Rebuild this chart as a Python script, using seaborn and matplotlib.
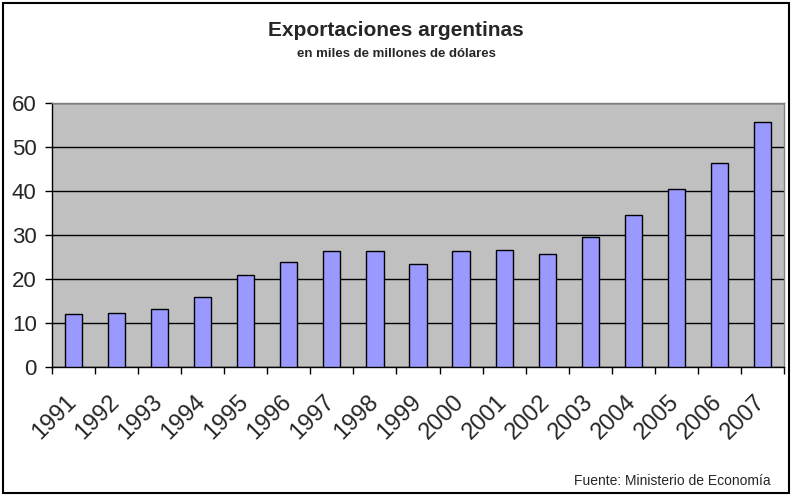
import numpy as np
import pandas as pd
import matplotlib
matplotlib.use("Agg")
import matplotlib.pyplot as plt
import seaborn as sns
from matplotlib.patches import Rectangle
from matplotlib.transforms import ScaledTranslation

# datos: exportaciones argentinas (miles de millones de USD)
years = ["1991", "1992", "1993", "1994", "1995", "1996", "1997", "1998", "1999",
         "2000", "2001", "2002", "2003", "2004", "2005", "2006", "2007"]
exports = [12.0, 12.3, 13.2, 15.9, 20.9, 23.9, 26.4, 26.4, 23.4,
           26.4, 26.6, 25.7, 29.5, 34.5, 40.5, 46.4, 55.7]
y_ticks = [0, 10, 20, 30, 40, 50, 60]

df = pd.DataFrame({"year": years, "exports": exports})

sns.set_style("white")
plt.rcParams["font.family"] = ["Liberation Sans", "DejaVu Sans"]

fig = plt.figure(figsize=(7.92, 4.96), dpi=100)
ax = fig.add_axes([52 / 792, 1 - 367 / 496, 732 / 792, 264 / 496])

sns.barplot(data=df, x="year", y="exports", color="#9999FF", saturation=1,
            width=0.4, edgecolor="black", linewidth=1, ax=ax, zorder=3)

ax.set_facecolor("#C0C0C0")
ax.set_ylim(0, 60)
ax.set_xlim(-0.5, len(years) - 0.5)
ax.set_yticks(y_ticks)
ax.set_yticklabels([str(t) for t in y_ticks], fontsize=16)
ax.yaxis.grid(True, color="black", linewidth=1, zorder=1)
ax.set_axisbelow(True)
ax.set_xlabel("")
ax.set_ylabel("")

# etiquetas de anios en el centro, marcas en los limites de categoria
ax.set_xticks(range(len(years)))
ax.set_xticklabels(years, fontsize=17, rotation=45, ha="right",
                   rotation_mode="anchor")
ax.set_xticks(np.arange(-0.5, len(years), 1), minor=True)
ax.tick_params(axis="x", which="major", length=0, pad=17)
ax.tick_params(axis="x", which="minor", length=5, width=1, color="black",
               direction="out", bottom=True)
ax.tick_params(axis="y", length=5, width=1, color="black", direction="out",
               left=True, pad=6)
shift = ScaledTranslation(-8 / 100, 0, fig.dpi_scale_trans)
for lbl in ax.get_xticklabels():
    lbl.set_transform(lbl.get_transform() + shift)

for side in ["top", "right"]:
    ax.spines[side].set_color("#808080")
    ax.spines[side].set_linewidth(1)
for side in ["left", "bottom"]:
    ax.spines[side].set_color("black")
    ax.spines[side].set_linewidth(1)

fig.text(0.5, 1 - 30 / 496, "Exportaciones argentinas", ha="center",
         va="center", fontsize=15, fontweight="bold")
fig.text(0.5, 1 - 54 / 496, "en miles de millones de dólares", ha="center",
         va="center", fontsize=9.5, fontweight="bold")
fig.text(771 / 792, 1 - 481 / 496, "Fuente: Ministerio de Economía",
         ha="right", va="center", fontsize=10,
         family=["Liberation Sans Narrow", "Liberation Sans", "DejaVu Sans"])

# marco de la figura
fig.patches.append(Rectangle((3 / 792, 3 / 496), 786 / 792, 490 / 496,
                             transform=fig.transFigure, fill=False,
                             edgecolor="black", linewidth=1.5))

fig.savefig("out.png", dpi=100)
